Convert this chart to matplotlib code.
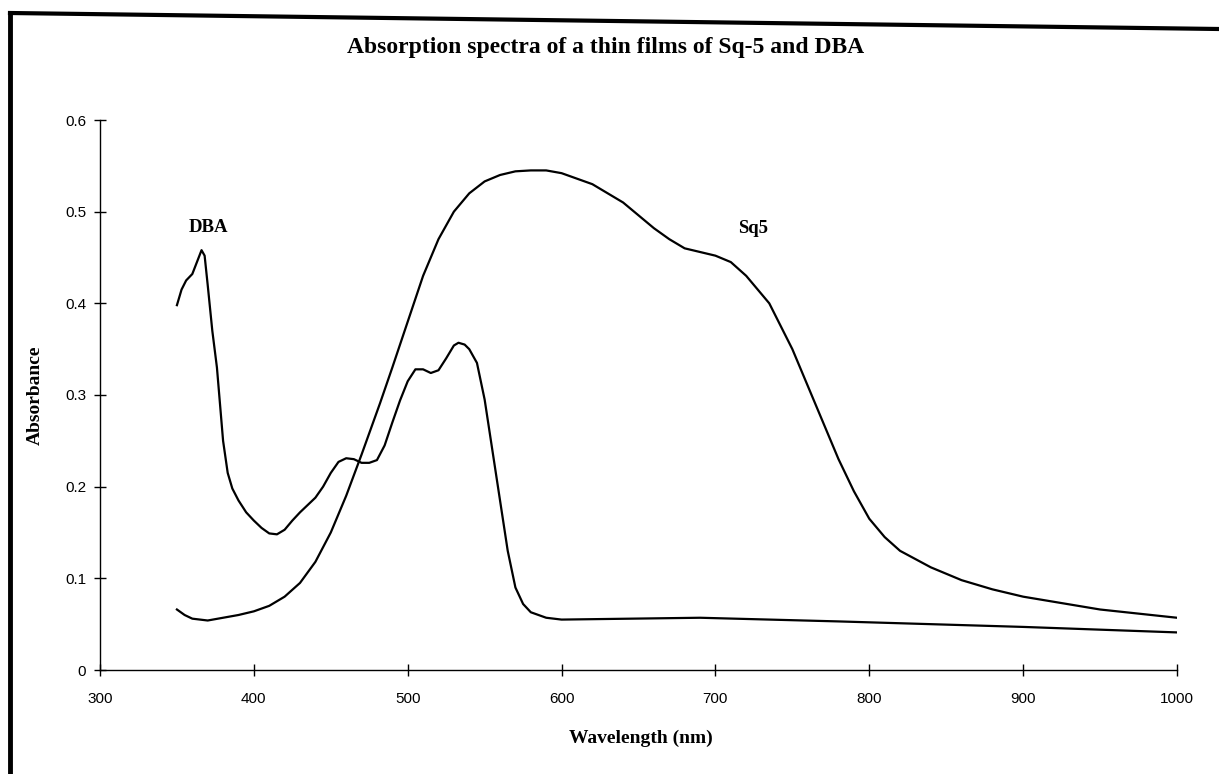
import matplotlib.pyplot as plt
from matplotlib.lines import Line2D

# Sq-5 thin film spectrum
sq5_nm = [350, 355, 360, 370, 380, 390, 400, 410, 420, 430, 440, 450, 460, 470,
          482, 490, 500, 510, 520, 530, 540, 550, 560, 570, 580, 590, 600, 620,
          640, 660, 670, 680, 690, 700, 710, 720, 735, 750, 760, 770, 780, 790,
          800, 810, 820, 840, 860, 880, 900, 950, 1000]
sq5_abs = [0.066, 0.060, 0.056, 0.054, 0.057, 0.060, 0.064, 0.070, 0.080, 0.095,
           0.118, 0.150, 0.190, 0.235, 0.291, 0.330, 0.380, 0.430, 0.470, 0.500,
           0.520, 0.533, 0.540, 0.544, 0.545, 0.545, 0.542, 0.530, 0.510, 0.482,
           0.470, 0.460, 0.456, 0.452, 0.445, 0.430, 0.400, 0.350, 0.310, 0.270,
           0.230, 0.195, 0.165, 0.145, 0.130, 0.112, 0.098, 0.088, 0.080, 0.066,
           0.057]

# DBA thin film spectrum
dba_nm = [350, 353, 356, 360, 363, 366, 368, 370, 373, 376, 378, 380, 383, 386,
          390, 395, 400, 405, 410, 415, 420, 425, 430, 435, 440, 445, 450, 455,
          460, 465, 470, 475, 480, 485, 490, 495, 500, 505, 510, 515, 520, 525,
          530, 533, 537, 540, 545, 550, 555, 560, 565, 570, 575, 580, 590, 600,
          690, 780, 900, 1000]
dba_abs = [0.398, 0.415, 0.425, 0.432, 0.445, 0.458, 0.452, 0.420, 0.370, 0.330,
           0.290, 0.250, 0.215, 0.198, 0.185, 0.172, 0.163, 0.155, 0.149, 0.148,
           0.153, 0.163, 0.172, 0.180, 0.188, 0.200, 0.215, 0.227, 0.231, 0.230,
           0.226, 0.226, 0.229, 0.245, 0.270, 0.294, 0.315, 0.328, 0.328, 0.324,
           0.327, 0.340, 0.354, 0.357, 0.355, 0.350, 0.335, 0.295, 0.240, 0.185,
           0.130, 0.090, 0.072, 0.063, 0.057, 0.055, 0.057, 0.053, 0.047, 0.041]

x_ticks = [300, 400, 500, 600, 700, 800, 900, 1000]
y_ticks = [0, 0.1, 0.2, 0.3, 0.4, 0.5, 0.6]
y_tick_labels = ['0', '0.1', '0.2', '0.3', '0.4', '0.5', '0.6']

serif = ['Liberation Serif', 'DejaVu Serif']
sans = ['Liberation Sans', 'DejaVu Sans']

W, H = 1219, 774
fig = plt.figure(figsize=(W / 100, H / 100), dpi=100)
ax = fig.add_axes([100 / W, 1 - 670 / H, 1077 / W, 550 / H])

ax.plot(sq5_nm, sq5_abs, color='black', lw=1.6)
ax.plot(dba_nm, dba_abs, color='black', lw=1.6)

ax.set_xlim(300, 1000)
ax.set_ylim(0, 0.6)
ax.set_xticks(x_ticks)
ax.set_yticks(y_ticks)
ax.set_yticklabels(y_tick_labels)
for s in ('top', 'right'):
    ax.spines[s].set_visible(False)
ax.spines['left'].set_linewidth(1.0)
ax.spines['bottom'].set_linewidth(1.0)
ax.tick_params(axis='both', direction='inout', length=8, width=1.0)
ax.tick_params(axis='y', pad=6)
ax.tick_params(axis='x', pad=12)
for lab in ax.get_xticklabels() + ax.get_yticklabels():
    lab.set_family(sans)
    lab.set_fontsize(11)

ax.text(370.8, 0.483, 'DBA', family=serif, fontweight='bold', fontsize=13.5,
        ha='center', va='center')
ax.text(724.3, 0.482, 'Sq5', family=serif, fontweight='bold', fontsize=13.5,
        ha='center', va='center')

fig.text(606 / W, 1 - 47 / H, 'Absorption spectra of a thin films of Sq-5 and DBA',
         family=serif, fontweight='bold', fontsize=17, ha='center', va='center')
fig.text(641 / W, 1 - 738 / H, 'Wavelength (nm)', family=serif, fontweight='bold',
         fontsize=14, ha='center', va='center')
fig.text(35 / W, 1 - 395 / H, 'Absorbance', family=serif, fontweight='bold',
         fontsize=14, ha='center', va='center', rotation=90)

# scanned page border (top edge slightly slanted)
fig.add_artist(Line2D([10 / W, 1.0], [1 - 13 / H, 1 - 29 / H],
                      transform=fig.transFigure, color='black', lw=3))
fig.add_artist(Line2D([10 / W, 10 / W], [1 - 13 / H, 0.0],
                      transform=fig.transFigure, color='black', lw=3.5))

fig.savefig('out.png', dpi=100)
